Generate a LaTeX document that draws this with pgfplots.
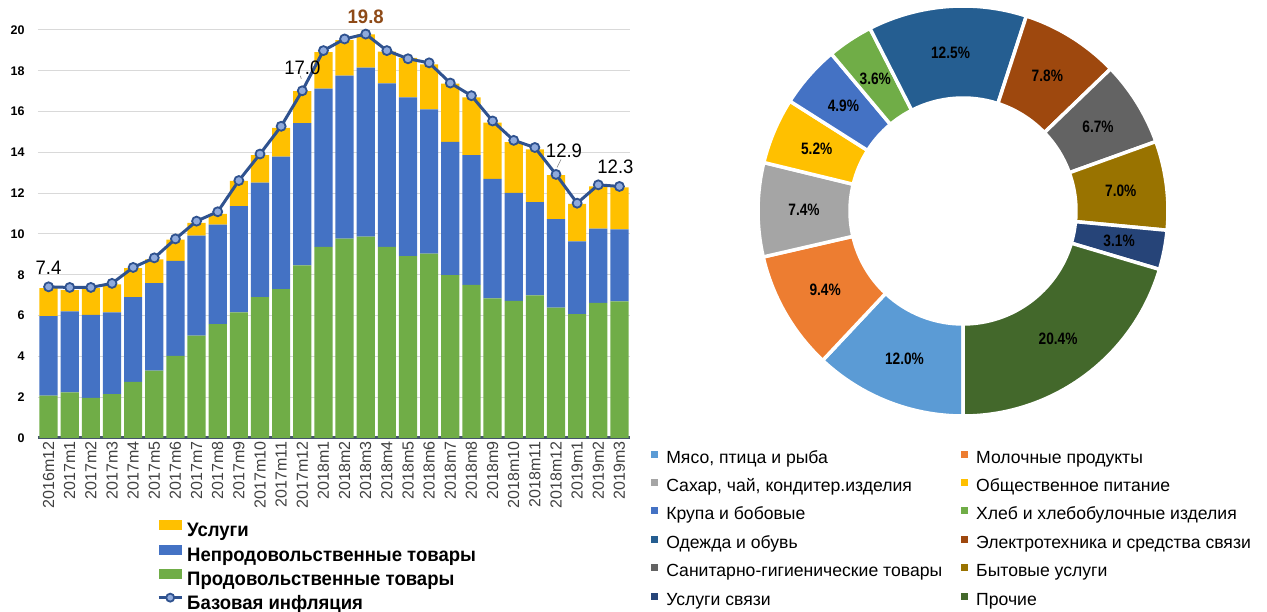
\documentclass[border=0pt]{standalone}
\usepackage{pgfplots}
\pgfplotsset{compat=1.18}
\usepackage{pgfplotstable}
\usepackage{fontspec}
\setmainfont{Liberation Sans}
\newfontfamily\legfont{Liberation Sans}[FakeStretch=0.95]
\newfontfamily\piefont{Liberation Sans}[FakeStretch=0.83]

\definecolor{cserv}{HTML}{FFC000}
\definecolor{cnon}{HTML}{4472C4}
\definecolor{cfood}{HTML}{70AD47}
\definecolor{cline}{HTML}{2F528F}
\definecolor{cmark}{HTML}{8FAADC}
\definecolor{caxis}{HTML}{44546A}
\definecolor{cgrid}{HTML}{D9D9D9}
\definecolor{cpeak}{HTML}{8E4A17}
\definecolor{ctick}{HTML}{404040}
\definecolor{pc0}{HTML}{5B9BD5}
\definecolor{pc1}{HTML}{ED7D31}
\definecolor{pc2}{HTML}{A5A5A5}
\definecolor{pc3}{HTML}{FFC000}
\definecolor{pc4}{HTML}{4472C4}
\definecolor{pc5}{HTML}{70AD47}
\definecolor{pc6}{HTML}{255E91}
\definecolor{pc7}{HTML}{9E480E}
\definecolor{pc8}{HTML}{636363}
\definecolor{pc9}{HTML}{997300}
\definecolor{pc10}{HTML}{264478}
\definecolor{pc11}{HTML}{43682B}

\pgfplotstableread{
i lab food nonfood serv core
0 2016m12 2.08 3.90 1.37 7.41
1 2017m1 2.24 3.97 1.04 7.38
2 2017m2 1.97 4.06 1.32 7.38
3 2017m3 2.15 4.01 1.37 7.58
4 2017m4 2.75 4.16 1.42 8.36
5 2017m5 3.30 4.29 1.17 8.83
6 2017m6 4.03 4.65 1.04 9.76
7 2017m7 5.02 4.90 0.62 10.63
8 2017m8 5.58 4.88 0.53 11.09
9 2017m9 6.16 5.21 1.23 12.62
10 2017m10 6.91 5.61 1.35 13.92
11 2017m11 7.30 6.49 1.41 15.28
12 2017m12 8.46 6.97 1.57 17.02
13 2018m1 9.37 7.75 1.79 18.99
14 2018m2 9.77 7.99 1.74 19.56
15 2018m3 9.87 8.29 1.63 19.80
16 2018m4 9.37 8.01 1.56 18.99
17 2018m5 8.91 7.79 1.93 18.59
18 2018m6 9.04 7.07 2.20 18.39
19 2018m7 7.98 6.54 2.85 17.40
20 2018m8 7.50 6.37 2.83 16.78
21 2018m9 6.85 5.85 2.76 15.54
22 2018m10 6.72 5.30 2.48 14.59
23 2018m11 6.99 4.57 2.59 14.24
24 2018m12 6.39 4.34 2.15 12.92
25 2019m1 6.07 3.57 1.84 11.51
26 2019m2 6.62 3.64 2.07 12.41
27 2019m3 6.70 3.53 2.05 12.33
}\bardata

\pgfplotstableread[col sep=semicolon]{
v;name
12.0;Мясо, птица и рыба
9.4;Молочные продукты
7.4;Сахар, чай, кондитер.изделия
5.2;Общественное питание
4.9;Крупа и бобовые
3.6;Хлеб и хлебобулочные изделия
12.5;Одежда и обувь
7.8;Электротехника и средства связи
6.7;Санитарно-гигиенические товары
7.0;Бытовые услуги
3.1;Услуги связи
20.4;Прочие
}\piedata

\pgfplotsset{
  barlegend/.style={legend image code/.code={\fill[##1, draw=none] (0pt,1.5pt) rectangle (23pt,11.5pt);}},
  linelegend/.style={legend image code/.code={\draw[mark repeat=2,mark phase=2,##1] plot coordinates {(0pt,6.5pt) (11.5pt,6.5pt) (23pt,6.5pt)};}},
  pielegend/.style={legend image code/.code={\fill[##1, draw=none] (0pt,1pt) rectangle (7pt,8pt);}},
}

\begin{document}
\begin{tikzpicture}
\useasboundingbox (0pt,0pt) rectangle (1267pt,612pt);

% precompute donut geometry from the table
\xdef\cum{0}
\foreach \k in {0,...,11}{%
  \pgfplotstablegetelem{\k}{v}\of\piedata
  \let\val\pgfplotsretval
  \global\expandafter\let\csname pval\k\endcsname\pgfplotsretval
  \pgfplotstablegetelem{\k}{name}\of\piedata
  \global\expandafter\let\csname pname\k\endcsname\pgfplotsretval
  \pgfmathsetmacro\tAS{270-3.6*\cum}%
  \pgfmathsetmacro\tAE{270-3.6*(\cum+\val)}%
  \pgfmathsetmacro\tAM{(\tAS+\tAE)/2}%
  \pgfmathsetmacro\tXO{205*cos(\tAS)}%
  \pgfmathsetmacro\tYO{205*sin(\tAS)}%
  \pgfmathsetmacro\tXI{113*cos(\tAE)}%
  \pgfmathsetmacro\tYI{113*sin(\tAE)}%
  \pgfmathsetmacro\tXM{159*cos(\tAM)}%
  \pgfmathsetmacro\tYM{159*sin(\tAM)}%
  \global\expandafter\let\csname paS\k\endcsname\tAS
  \global\expandafter\let\csname paE\k\endcsname\tAE
  \global\expandafter\let\csname pxo\k\endcsname\tXO
  \global\expandafter\let\csname pyo\k\endcsname\tYO
  \global\expandafter\let\csname pxi\k\endcsname\tXI
  \global\expandafter\let\csname pyi\k\endcsname\tYI
  \global\expandafter\let\csname pxm\k\endcsname\tXM
  \global\expandafter\let\csname pym\k\endcsname\tYM
  \pgfmathsetmacro\tNC{\cum+\val}%
  \global\let\cum\tNC
}

% ---------- stacked bars ----------
\begin{axis}[
  at={(38pt,174pt)}, anchor=south west,
  width=592pt, height=408pt, scale only axis,
  xmin=-0.5, xmax=27.5, ymin=0, ymax=20,
  ybar stacked, bar width=0.86,
  axis lines*=left,
  x axis line style={draw=caxis, line width=3pt},
  y axis line style={draw=none},
  ytick={0,2,...,20},
  ymajorgrids, grid style={draw=cgrid, line width=1pt},
  xtick=data, xticklabels from table={\bardata}{lab},
  tick style={draw=none},
  xticklabel style={rotate=90, anchor=east, font=\fontsize{16}{16}\selectfont, text=ctick},
  yticklabel style={font=\bfseries\fontsize{12.5}{12.5}\selectfont, xshift=-10pt},
  /pgf/number format/assume math mode=true,
]
\addplot[fill=cfood, draw=none] table[x=i, y=food]{\bardata};
\addplot[fill=cnon, draw=none] table[x=i, y=nonfood]{\bardata};
\addplot[fill=cserv, draw=none] table[x=i, y=serv]{\bardata};
\end{axis}

% ---------- core inflation line + legend ----------
\begin{axis}[
  at={(38pt,174pt)}, anchor=south west,
  width=592pt, height=408pt, scale only axis,
  xmin=-0.5, xmax=27.5, ymin=0, ymax=20,
  hide axis, clip=false,
  legend style={at={(0.196,-0.196)}, anchor=north west, draw=none, fill=none,
    font=\legfont\bfseries\fontsize{19.5}{19.5}\selectfont,
    row sep=4pt,
    nodes={inner sep=0pt, text height=14pt, text depth=4pt},
    /tikz/every odd column/.append style={column sep=4pt}},
  legend cell align=left,
]
\addlegendimage{barlegend, fill=cserv}
\addlegendentry{Услуги}
\addlegendimage{barlegend, fill=cnon}
\addlegendentry{Непродовольственные товары}
\addlegendimage{barlegend, fill=cfood}
\addlegendentry{Продовольственные товары}
\addlegendimage{linelegend, color=cline, line width=3pt, mark=*, mark size=4pt, mark options={fill=cmark, draw=cline, line width=1.8pt}}
\addlegendentry{Базовая инфляция}
\addplot[forget plot, color=cline, line width=3pt, mark=*, mark size=4.5pt,
  mark options={fill=cmark, draw=cline, line width=1.8pt}]
  table[x=i, y=core]{\bardata};
\node[font=\legfont\fontsize{19.5}{19.5}\selectfont, inner sep=0pt] at (axis cs:0,7.41) [yshift=19pt] {7.4};
\node[font=\legfont\fontsize{19.5}{19.5}\selectfont, inner sep=0pt] at (axis cs:12,17.02) [yshift=23pt] {17.0};
\node[font=\legfont\bfseries\fontsize{19.5}{19.5}\selectfont, inner sep=0pt, text=cpeak] at (axis cs:15,19.80) [yshift=17pt] {19.8};
\node[font=\legfont\fontsize{19.5}{19.5}\selectfont, inner sep=0pt] at (axis cs:24,12.92) [xshift=8pt, yshift=24pt] {12.9};
\node[font=\legfont\fontsize{19.5}{19.5}\selectfont, inner sep=0pt] at (axis cs:27,12.33) [xshift=-4pt, yshift=20pt] {12.3};
\draw[gray, line width=0.6pt] ([xshift=-1pt,yshift=12pt]axis cs:12,17.02) -- ([xshift=-2pt,yshift=15pt]axis cs:12,17.02);
\draw[gray, line width=0.6pt] ([xshift=1pt,yshift=7pt]axis cs:24,12.92) -- ([xshift=5pt,yshift=15pt]axis cs:24,12.92);
\end{axis}

% ---------- donut ----------
\begin{axis}[
  at={(758pt,196pt)}, anchor=south west,
  width=410pt, height=410pt, scale only axis,
  xmin=-205, xmax=205, ymin=-205, ymax=205,
  hide axis, clip=false,
  legend columns=2,
  legend style={at={(-0.268,-0.078)}, anchor=north west, draw=none, fill=none,
    font=\fontsize{17.6}{17.6}\selectfont,
    row sep=11.4pt,
    nodes={inner sep=0pt, text height=13pt, text depth=4pt},
    /tikz/every odd column/.append style={column sep=8pt},
    /tikz/every even column/.append style={column sep=19pt}},
  legend cell align=left,
]
\pgfplotsinvokeforeach{0,...,11}{%
  \addlegendimage{pielegend, fill=pc#1}
  \addlegendentry{\csname pname#1\endcsname}
  \filldraw[fill=pc#1, draw=white, line width=3.5pt]
    (axis cs:\csname pxo#1\endcsname,\csname pyo#1\endcsname)
    arc[start angle=\csname paS#1\endcsname, end angle=\csname paE#1\endcsname, radius=205pt]
    -- (axis cs:\csname pxi#1\endcsname,\csname pyi#1\endcsname)
    arc[start angle=\csname paE#1\endcsname, end angle=\csname paS#1\endcsname, radius=113pt]
    -- cycle;
  \node[font=\piefont\bfseries\fontsize{16.5}{16.5}\selectfont, inner sep=0pt]
    at (axis cs:\csname pxm#1\endcsname,\csname pym#1\endcsname)
    {\csname pval#1\endcsname\%};
}
\end{axis}
\end{tikzpicture}
\end{document}
